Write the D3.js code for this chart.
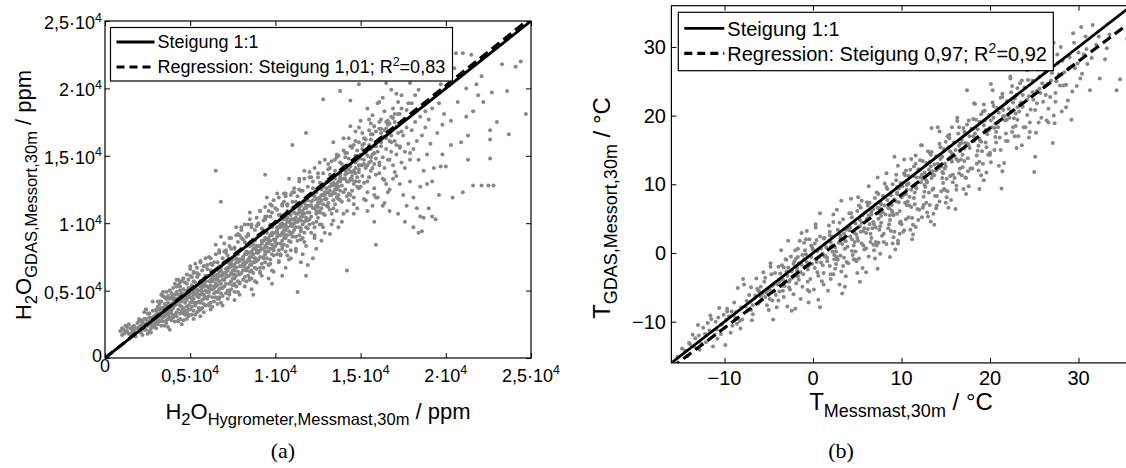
<!DOCTYPE html>
<html>
<head>
<meta charset="utf-8">
<script src="https://cdn.jsdelivr.net/npm/d3@7"></script>
<style>
  body { margin: 0; background: #fff; }
  svg { display: block; }
</style>
</head>
<body>
<svg id="chart" width="1126" height="468"></svg>
<script>
// ---- data ----------------------------------------------------------------
// panel (a): water vapour, values in units of 100 ppm  [hygrometer, GDAS]
const H2O_UNIT = 100
const h2oTicks = [0, 5000, 10000, 15000, 20000, 25000]
const h2oTickLabels = ["0", "0,5", "1", "1,5", "2", "2,5"]   // mantissa of ·10^4
const h2oRegression = [1.01, 0]   // slope, intercept (ppm)
const h2oPoints = [
  [9,20],[10,17],[11,21],[12,19],[13,23],[14,18],[15,22],[16,20],[17,24],[18,19],[19,22],[12,24],[15,17],[17,21],[19,26],[18,16],[14,25],[11,18],[10,22],[16,23],
  [20,23],[21,19],[22,26],[23,21],[24,29],[25,24],[26,20],[27,27],[28,23],[29,31],[21,28],[23,34],[25,18],[26,30],[27,22],[28,35],[29,26],[24,21],[22,22],[20,27],[25,33],[27,19],[28,28],[29,24],[26,25],[23,29],[21,24],[24,36],[22,17],[26,33],
  [30,29],[31,25],[32,33],[33,28],[34,37],[35,31],[36,26],[37,35],[38,30],[39,40],[30,35],[31,38],[32,27],[33,42],[34,30],[35,24],[36,39],[37,29],[38,44],[39,33],[30,22],[31,31],[32,36],[33,24],[34,34],[35,40],[36,32],[37,23],[38,36],[39,28],[34,46],[36,44],[31,29],[33,33],[35,35],[37,41],[39,37],[38,21],[32,40],[36,28],[30,32],[34,27],[37,32],[39,45],[33,37],
  [40,37],[41,32],[42,44],[43,36],[44,29],[45,42],[46,33],[47,47],[48,38],[49,32],[40,43],[41,47],[42,34],[43,28],[44,46],[45,35],[46,51],[47,41],[48,29],[49,45],[40,31],[41,39],[42,49],[43,42],[44,33],[45,48],[46,28],[47,35],[48,50],[49,39],[40,47],[42,40],[44,39],[46,45],[48,43],[41,27],[43,54],[45,25],[47,32],[49,52],[42,31],[44,50],[46,37],[48,34],[43,47],[41,43],[45,38],[47,44],[49,36],[44,56],
  [50,45],[51,38],[52,51],[53,41],[54,34],[55,47],[56,41],[57,54],[58,47],[59,39],[50,52],[51,45],[52,35],[53,56],[54,46],[55,37],[56,53],[57,43],[58,59],[59,50],[50,36],[51,54],[52,44],[53,32],[54,51],[55,45],[56,31],[57,49],[58,40],[59,57],[50,41],[52,57],[54,41],[56,47],[58,53],[51,43],[53,48],[55,55],[57,37],[59,45],[50,61],[52,29],[54,63],[56,57],[58,34],[53,39],[55,42],[57,52],[59,61],[51,32],[54,48],[56,36],[58,44],[52,47],
  [60,53],[61,46],[62,57],[63,51],[64,42],[65,55],[66,49],[67,61],[68,55],[69,46],[60,61],[61,52],[62,41],[63,63],[64,53],[65,45],[66,59],[67,51],[68,67],[69,58],[60,44],[61,61],[62,51],[63,38],[64,58],[65,53],[66,40],[67,57],[68,48],[69,63],[60,49],[62,65],[64,48],[66,54],[68,61],[61,49],[63,57],[65,61],[67,44],[69,52],[60,69],[62,36],[64,71],[65,139],[68,41],[63,45],[65,49],[67,68],[69,39],[61,39],[64,64],[66,44],[68,52],[62,54],
  [70,63],[71,55],[72,67],[73,61],[74,51],[75,65],[76,59],[77,71],[78,64],[79,56],[70,71],[71,63],[72,50],[73,73],[74,63],[75,54],[76,69],[77,61],[78,77],[79,68],[70,53],[71,71],[72,61],[73,47],[74,68],[75,62],[76,49],[77,67],[78,57],[79,73],[70,58],[72,76],[74,57],[76,65],[78,71],[71,60],[73,67],[75,73],[77,53],[79,62],[70,79],[72,44],[74,81],[76,43],[78,49],[73,55],[75,59],[77,78],[79,47],[71,48],[68,116],[78,92],[74,72],[76,55],
  [80,73],[81,65],[82,77],[83,71],[84,61],[85,75],[86,69],[87,81],[88,74],[89,66],[80,81],[81,73],[82,60],[83,83],[84,73],[85,64],[86,79],[87,71],[88,87],[89,78],[80,63],[81,81],[82,71],[83,57],[84,78],[85,72],[86,59],[87,77],[88,67],[89,83],[80,68],[82,86],[84,67],[86,75],[88,81],[81,70],[83,77],[85,83],[87,63],[89,72],[80,89],[82,53],[84,91],[86,51],[88,57],[83,65],[85,69],[87,88],[89,56],[81,58],[84,99],[87,47],[86,65],[82,66],
  [90,83],[91,75],[92,87],[93,81],[94,71],[95,85],[96,79],[97,91],[98,84],[99,76],[90,91],[91,83],[92,70],[93,93],[94,83],[95,74],[96,89],[97,81],[98,97],[99,88],[90,73],[91,91],[92,81],[93,67],[94,88],[95,82],[96,69],[97,87],[98,77],[99,93],[90,78],[92,96],[94,77],[96,85],[98,91],[91,80],[93,87],[95,93],[97,73],[99,82],[90,99],[92,61],[94,103],[96,59],[98,65],[93,75],[95,79],[97,99],[99,64],[91,67],[94,136],[96,109],[98,55],
  [100,93],[101,85],[102,97],[103,91],[104,81],[105,95],[106,89],[107,101],[108,94],[109,86],[100,101],[101,93],[102,80],[103,103],[104,93],[105,84],[106,99],[107,91],[108,107],[109,98],[100,83],[101,101],[102,91],[103,77],[104,98],[105,92],[106,79],[107,97],[108,87],[109,103],[100,88],[102,106],[104,87],[106,95],[108,101],[101,90],[103,97],[105,103],[107,83],[109,92],[100,111],[102,71],[104,113],[106,67],[108,73],[103,85],[105,89],[107,109],[109,74],[101,77],[104,61],[106,120],
  [110,103],[111,95],[112,107],[113,101],[114,91],[115,105],[116,99],[117,111],[118,104],[119,96],[110,111],[111,103],[112,90],[113,113],[114,103],[115,94],[116,109],[117,101],[118,117],[119,108],[110,93],[111,111],[112,101],[113,87],[114,108],[115,102],[116,89],[117,107],[118,97],[119,113],[110,98],[112,116],[114,97],[116,105],[118,111],[111,100],[113,107],[115,113],[117,93],[119,102],[110,123],[112,79],[114,125],[116,77],[118,83],[115,71],[119,69],[110,158],[118,167],[113,49],
  [120,113],[121,105],[122,117],[123,111],[124,101],[125,115],[126,109],[127,121],[128,114],[129,106],[120,121],[121,113],[122,100],[123,123],[124,113],[125,104],[126,119],[127,111],[128,127],[129,118],[120,103],[121,121],[122,111],[123,97],[124,118],[125,112],[126,99],[127,117],[128,107],[129,123],[120,108],[122,126],[124,107],[126,115],[128,121],[121,134],[123,89],[125,137],[127,87],[129,93],[124,81],[122,74],[118,61],[126,130],
  [130,123],[131,115],[132,127],[133,121],[134,111],[135,125],[136,119],[137,131],[138,124],[139,116],[130,131],[131,123],[132,110],[133,133],[134,123],[135,114],[136,129],[137,121],[138,137],[139,128],[130,113],[131,131],[132,121],[133,107],[134,128],[135,122],[136,109],[137,127],[138,117],[139,133],[130,118],[132,136],[134,117],[136,125],[138,131],[131,144],[133,99],[135,147],[137,97],[139,101],[132,92],[136,151],[128,192],[138,198],
  [140,133],[141,125],[142,137],[143,131],[144,121],[145,135],[146,129],[147,141],[148,134],[149,126],[140,141],[141,133],[142,120],[143,143],[144,133],[145,124],[146,139],[147,131],[148,147],[149,138],[140,123],[141,141],[142,131],[143,117],[144,138],[145,132],[146,119],[147,137],[148,127],[149,143],[140,154],[142,109],[144,157],[146,107],[148,111],[143,163],[147,161],[142,65],[144,191],[149,203],
  [150,143],[151,135],[152,147],[153,141],[154,131],[155,145],[156,139],[157,151],[158,144],[159,136],[150,151],[151,143],[152,130],[153,153],[154,143],[155,134],[156,149],[157,141],[158,157],[159,148],[150,127],[152,159],[154,123],[156,162],[158,121],[151,167],[153,117],[155,169],[157,113],[159,119],[154,109],[156,174],[159,84],[158,101],
  [160,153],[161,145],[162,157],[163,149],[164,141],[165,155],[166,147],[167,161],[168,153],[169,143],[160,161],[161,137],[162,167],[163,133],[164,169],[165,129],[166,173],[167,125],[168,165],[169,133],[160,119],[162,177],[164,115],[166,123],[168,179],[163,113],[167,109],[161,190],[165,204],[169,185],
  [170,161],[171,151],[172,167],[173,157],[174,145],[175,165],[176,153],[177,171],[178,159],[179,147],[170,175],[171,135],[172,181],[173,129],[174,185],[175,121],[176,177],[177,113],[178,189],[179,131],[172,107],[176,101],[174,195],[179,204],[171,158],
  [180,169],[181,155],[182,175],[183,161],[184,147],[185,179],[186,165],[187,139],[188,183],[189,151],[180,189],[181,119],[182,195],[183,111],[184,199],[185,127],[186,94],[187,104],[188,171],[189,129],[181,97],[184,93],[189,211],[185,105],
  [190,177],[191,159],[192,185],[193,141],[194,196],[195,167],[196,121],[197,203],[198,151],[199,181],[190,111],[192,131],[194,103],[196,189],[198,173],[192,105],[197,142],[200,142],
  [204,119],[210,123],[213,147],[216,128],[221,128],[225,128],[228,128],[226,148],[226,162],[226,169],[237,166],[236,198],[247,181],[216,183],[221,209],[210,226],[215,225],[203,176],[207,190],[212,200],[219,195],[205,215],[209,160],[222,190],[230,175],[233,218],[241,216],[244,220],[206,226],[212,179],[218,203],[227,197],[203,158],[213,165],
  // upper half of the band
  [31,42],[33,47],[35,45],[36,49],[38,50],[40,52],[41,55],[43,58],[44,53],[46,59],[47,56],[48,62],[49,58],[50,66],[51,60],[52,64],[53,70],[54,67],[55,62],[56,72],[57,65],[58,68],[59,74],[45,57],[42,53],[39,48],[37,46],
  [60,66],[62,74],[63,69],[65,77],[66,71],[67,80],[69,74],[70,85],[71,78],[73,83],[74,89],[76,81],[77,91],[78,86],[80,95],[81,88],[82,99],[84,92],[85,103],[86,97],[88,95],[89,104],[90,100],[91,109],[93,102],[94,112],[95,105],[97,114],[98,108],[99,117],[101,110],[102,119],[103,106],[105,116],[106,122],[107,113],[109,121],[110,116],[111,126],[113,120],[114,131],[116,124],[117,133],[119,127],[120,138],[122,131],[123,141],[125,134],[126,145],[128,137],[129,147],
  [131,140],[133,146],[135,139],[137,150],[139,144],[141,152],[143,148],[145,156],[147,150],[149,160],[151,155],[153,162],[155,158],[157,166],[159,160],[161,170],[163,164],[165,175],[167,168],[169,178],[171,172],[173,181],[175,176],[177,184],[172,190],[168,160],[174,168],
  [20,29],[22,27],[24,36],[26,33],[28,42],[30,36],[32,42],[34,49],[36,44],[38,50],[40,45],[42,58],[44,53],[46,59],[48,55],[50,68],[52,63],[54,60],[56,71],[58,68],
  [61,75],[62,70],[65,84],[67,78],[68,90],[71,80],[73,89],[76,82],[77,97],[79,91],[80,97],[83,90],[85,108],[86,99],[89,98],[91,109],[94,105],[95,119],[97,105],[98,113],[101,122],[104,114],[105,122],[107,114],[108,133],[111,123],[114,133],[115,124],[117,139],[120,134],
  [132,141],[134,160],[136,149],[138,145],[140,163],[142,152],[144,172],[146,158],[148,154],[150,176],[152,163],[154,185],[156,166],[158,172],[160,189],[162,170],[164,183],[166,176],[168,199],[170,181],[141,149],[147,168],[151,158],[155,177],[159,168],[163,193],[167,174],[171,196],[149,171],[157,180],[161,175],[165,170],
  // core and lower half
  [41,40],[43,44],[45,43],[47,48],[49,47],[52,49],[54,54],[56,50],[58,56],[61,57],[63,60],[65,58],[67,64],[69,61],[72,65],[74,70],[76,67],[78,73],[81,75],[83,79],[85,78],[87,84],[89,80],[92,85],[94,89],[96,87],[98,93],[101,95],[103,99],[105,98],[107,104],[109,100],[112,104],[114,110],[116,107],[118,113],[121,116],[123,120],[125,118],[127,125],[129,121],[132,124],[134,130],[136,127],[138,133],[141,136],[143,140],[145,138],[147,145],[149,140],[152,144],[154,150],[156,146],[158,152],
  [82,66],[85,58],[88,71],[91,63],[93,74],[96,69],[99,80],[102,72],[104,83],[107,76],[110,90],[112,81],[115,96],[117,86],[120,99],[123,91],[126,108],[128,97],[131,112],[134,102],[137,118],[140,107],[143,122],[146,114],[149,131],[152,118],[155,134],[158,126],[161,143],[164,132],[167,147],[170,138],[173,156],[176,141],[179,152],
  [13,20],[16,19],[18,22],[20,21],[22,24],[24,25],[26,27],[28,30],[30,27],[32,31],[34,32],[36,34],[38,33],[25,27],[27,25],[29,28],[31,33],[33,31],[35,37],[37,38],[39,35],
  [21,22],[23,25],[25,26],[27,29],[29,29],[31,30],[33,35],[35,34],[37,36],[39,39],[42,41],[44,42],[46,46],[48,46],[50,48],[53,51],[55,50],[57,55],[59,54],[62,58],[64,61],[66,62],[68,65],[71,66],[73,70],[75,69],[77,74],[79,72],
  [40,30],[43,27],[46,36],[49,31],[52,41],[55,35],[58,47],[61,40],[64,52],[67,45],[70,58],[73,49],[76,62],[79,55],[82,69],[85,59],[88,74],[91,64],[94,79],[97,70],[100,86],[103,76],[106,91],[109,80],[112,97],[115,88],[118,102],[121,93],[124,109],[127,99],
  [101,97],[104,100],[106,103],[109,106],[111,108],[114,112],[117,115],[119,117],[122,121],[124,123],[127,127],[130,126],[133,129],[135,133],[138,135],[141,139],[144,142],[147,146],[150,148],[153,152],[156,155],[159,157],[162,160],[165,163]
]

// panel (b): temperature in °C  [Messmast, GDAS]
const tempTicks = [-10, 0, 10, 20, 30]
const tempRegression = [0.97, -1.2]
const tempPoints = [
  [-15.3,-15.1],[-14.8,-13.9],[-14.2,-15.0],[-14.5,-14.2],[-13.6,-11.9],[-13.0,-10.5],[-12.6,-13.2],[-13.3,-12.4],[-12.2,-11.8],[-12.8,-14.1],[-12.4,-10.9],[-13.9,-13.3],
  [-11.9,-10.2],[-11.3,-13.6],[-10.6,-8.0],[-10.9,-11.1],[-11.5,-9.6],[-10.3,-10.4],[-10.8,-12.5],[-11.1,-11.9],[-9.9,-13.4],[-9.5,-9.2],[-9.1,-10.6],[-8.7,-8.6],[-8.3,-9.9],[-9.7,-8.1],[-8.9,-7.2],[-8.5,-5.1],[-8.2,-11.0],[-9.3,-11.6],[-10.1,-9.0],[-8.6,-10.3],
  [-8.0,-9.7],[-7.2,-6.1],[-7.6,-7.8],[-6.8,-8.9],[-6.4,-3.7],[-7.0,-5.0],[-6.6,-6.6],[-6.2,-7.4],[-7.8,-4.6],[-6.9,-9.8],[-7.4,-8.4],[-6.1,-5.6],[-5.8,-6.8],[-5.5,-4.2],[-5.2,-7.6],[-4.9,-5.3],[-4.5,-9.7],[-4.7,-3.1],[-5.6,-2.8],[-4.2,-6.1],[-5.0,-8.3],[-4.4,-4.5],[-5.3,-5.7],[-4.1,-7.9],[-5.9,-4.9],[-4.8,-2.0],[-7.1,-7.1],[-6.3,-5.2],[-5.4,-6.4],[-4.6,-6.9],
  [-3.6,0.4],[-3.8,-4.1],[-3.3,-6.4],[-3.0,-2.7],[-2.6,-5.3],[-2.3,-3.6],[-3.5,-1.8],[-2.9,-7.8],[-2.1,-1.2],[-3.9,-6.9],[-2.5,-0.5],[-3.2,-4.8],[-2.8,-2.1],[-2.2,-6.0],[-3.7,-3.0],[-2.4,-8.4],[-3.1,-0.9],[-2.7,-4.2],[-1.3,2.9],[-1.9,-4.4],[-1.6,-1.5],[-1.1,-3.1],[-0.8,-0.2],[-0.4,-5.6],[-1.7,0.6],[-0.6,-2.4],[-1.4,-6.7],[-0.2,1.1],[-1.0,-0.9],[-0.3,-3.8],[-1.8,-2.6],[-0.7,3.2],[-1.2,-4.9],[-0.1,-1.6],[-1.5,1.8],[-0.5,-7.2],[-0.9,0.4],[-1.9,-0.8],[-3.4,-5.5],[-2.0,-3.3],[-0.9,-2.0],[-1.6,-3.9],
  [0.8,5.8],[0.2,-2.2],[0.5,0.3],[1.0,-4.1],[1.3,2.2],[1.6,-0.7],[0.1,-5.3],[0.9,-1.4],[1.8,4.0],[0.4,1.9],[1.2,-2.9],[1.5,0.8],[0.6,-3.3],[1.9,-1.9],[0.3,3.7],[1.1,-0.1],[1.7,-5.5],[0.7,-0.6],[1.4,1.3],[0.0,0.5],[1.9,2.6],[0.6,-6.8],[2.2,1.1],[2.5,-2.3],[2.8,3.4],[3.1,-0.4],[3.4,4.9],[3.7,1.7],[2.0,-3.8],[2.6,0.2],[3.0,-4.6],[3.5,2.8],[2.3,5.6],[3.8,-1.3],[2.9,1.5],[3.2,-2.7],[2.4,-0.9],[3.6,0.6],[2.7,6.3],[3.9,3.5],[2.1,2.4],[3.3,-5.9],[2.6,-1.6],[3.7,-3.4],[1.1,-1.8],[2.4,-0.3],[3.1,2.1],[0.4,-1.0],[2.0,0.9],[3.5,-0.7],
  [4.2,2.4],[4.5,-0.3],[4.8,4.3],[5.1,1.8],[5.4,6.6],[5.7,3.2],[4.0,-1.5],[4.6,1.1],[5.0,-2.9],[5.5,4.4],[4.3,7.9],[5.8,0.5],[4.9,2.7],[5.2,-0.8],[4.4,5.2],[5.6,-2.2],[4.7,1.6],[5.9,5.9],[4.1,3.3],[5.3,-4.2],[4.8,0.2],[5.0,6.1],[5.5,1.4],[6.2,3.5],[6.5,1.6],[6.8,6.4],[7.1,3.7],[7.4,8.6],[7.7,5.4],[6.0,0.7],[6.6,2.2],[7.0,-0.8],[7.5,6.5],[6.3,9.7],[7.8,2.5],[6.9,4.2],[7.2,1.1],[6.4,7.3],[7.6,-0.1],[6.7,3.6],[7.9,8.3],[6.1,5.0],[7.3,-2.3],[6.8,1.2],[7.0,8.0],[7.5,3.4],[6.3,-0.5],[7.1,1.6],[4.9,-1.2],[6.0,2.9],[5.3,3.9],[7.7,4.4],[6.6,5.6],
  [8.2,5.6],[8.5,3.6],[8.8,8.4],[9.1,5.5],[9.4,10.6],[9.7,7.4],[8.0,2.8],[8.6,4.2],[9.0,1.4],[9.5,8.6],[8.3,11.6],[9.8,4.4],[8.9,6.2],[9.2,3.1],[8.4,9.3],[9.6,1.8],[8.7,5.5],[9.9,10.2],[8.1,6.9],[9.3,0.5],[8.8,3.2],[9.0,10.0],[9.5,5.7],[8.3,1.3],[9.6,12.7],[9.8,2.8],[10.2,8.4],[10.5,4.9],[10.8,11.2],[11.1,6.7],[11.4,12.6],[11.7,9.4],[10.0,4.2],[10.6,7.0],[11.0,3.4],[11.5,9.8],[10.3,13.6],[11.8,6.4],[10.9,8.2],[11.2,5.1],[10.4,11.3],[11.6,3.8],[10.7,7.5],[11.9,12.2],[10.1,9.7],[11.3,2.7],[10.8,5.2],[11.0,12.1],[11.5,7.1],[10.3,3.3],[11.6,14.2],[11.9,4.8],[9.6,1.4],[10.6,9.2],[9.2,7.8],[11.4,8.0],
  [12.2,10.3],[12.5,7.0],[12.8,13.1],[13.1,8.8],[13.4,14.7],[13.7,11.3],[12.0,6.3],[12.6,8.9],[13.0,5.3],[13.5,11.9],[12.3,15.7],[13.8,8.3],[12.9,10.3],[13.2,7.0],[12.4,13.4],[13.6,5.7],[12.7,9.6],[13.9,14.1],[12.1,11.0],[13.3,4.6],[12.8,7.3],[13.0,14.8],[13.5,9.2],[12.3,5.2],[13.4,18.2],[13.9,6.5],[14.2,12.3],[14.5,9.0],[14.8,15.1],[15.1,10.8],[15.4,16.7],[15.7,13.3],[14.0,8.3],[14.6,10.9],[15.0,7.3],[15.5,13.9],[14.3,17.7],[15.8,10.3],[14.9,12.3],[15.2,9.0],[14.4,15.4],[15.6,7.7],[14.7,11.6],[15.9,16.1],[14.1,13.0],[15.3,6.6],[14.8,9.3],[15.0,16.2],[15.5,11.2],[14.3,7.5],[15.7,18.3],[12.6,11.7],[14.6,14.0],[13.1,12.1],
  [16.2,13.7],[16.5,11.6],[16.8,16.5],[17.1,13.4],[17.4,18.7],[17.7,15.3],[16.0,10.9],[16.6,12.3],[17.0,9.3],[17.5,15.9],[16.3,19.7],[17.8,12.3],[16.9,14.3],[17.2,11.0],[16.4,17.4],[17.6,9.7],[16.7,13.6],[17.9,18.1],[16.1,15.0],[17.3,8.6],[16.8,11.3],[17.0,18.2],[17.4,23.7],[16.2,9.2],[18.2,16.3],[18.5,13.0],[18.8,19.1],[19.1,14.8],[19.4,20.7],[19.7,17.3],[18.0,12.3],[18.6,14.9],[19.0,11.3],[19.5,17.9],[18.3,21.7],[19.8,14.3],[18.9,16.3],[19.2,13.0],[18.4,19.4],[19.6,11.7],[18.7,15.6],[19.9,20.1],[18.1,17.0],[19.3,10.6],[18.8,13.3],[19.0,20.2],[19.5,16.1],[17.2,16.0],[18.6,18.0],[16.5,15.6],
  [20.2,18.3],[20.5,15.0],[20.8,21.1],[21.1,16.8],[21.4,22.7],[21.7,19.3],[20.0,14.3],[20.6,16.9],[21.0,12.7],[21.5,19.9],[20.3,23.7],[21.8,16.3],[20.9,18.3],[21.2,15.0],[20.4,21.4],[21.6,13.1],[20.7,17.6],[21.9,22.1],[21.3,9.4],[20.1,19.3],[22.2,19.7],[22.5,17.6],[22.8,22.5],[23.1,19.4],[23.4,24.7],[23.7,21.3],[22.0,16.3],[22.6,18.3],[23.0,15.3],[23.5,21.9],[22.3,25.7],[23.8,18.3],[22.9,20.3],[23.2,17.0],[22.4,23.4],[23.6,15.7],[22.7,19.6],[23.9,24.1],[21.0,20.4],[22.1,21.0],
  [24.2,22.3],[24.5,19.0],[24.8,25.1],[25.1,20.8],[25.4,26.7],[25.7,23.3],[24.0,18.3],[24.6,20.9],[25.0,11.8],[25.1,14.0],[24.3,25.2],[25.8,19.7],[24.9,22.3],[25.2,17.5],[24.4,16.8],[25.6,25.7],[26.2,24.3],[26.6,21.0],[27.0,26.2],[27.1,16.0],[27.4,23.3],[27.7,27.7],[26.4,19.3],[28.0,30.0],[28.1,20.6],[26.8,22.7],[27.5,25.0],[26.1,27.0],[27.9,24.4],[26.0,22.0],[25.3,23.6],[27.2,20.0],
  [28.4,26.3],[28.8,22.2],[29.2,19.4],[29.4,32.0],[29.0,28.5],[28.6,24.5],[29.6,26.9],[30.0,29.2],[29.8,24.3],[30.2,25.4],[30.3,32.9],[30.8,31.5],[31.3,23.7],[31.6,33.2],[32.4,25.4],[32.0,30.3],[33.0,28.2],[34.3,23.7],[34.7,25.3],[35.5,31.2],[33.5,31.8],[31.0,27.5],[30.6,28.9],[28.2,28.0],[29.5,30.6],
  // dense core of the band
  [-5.7,-5.9],[-5.1,-5.4],[-4.6,-4.8],[-4.0,-4.6],[-3.4,-3.9],[-2.9,-3.3],[-2.4,-2.7],[-1.8,-2.1],[-1.3,-1.7],[-0.7,-1.3],[-0.2,-0.6],[-5.4,-3.6],[-4.3,-2.9],[-3.3,-2.1],[-2.2,-1.6],[-1.2,-0.3],[-4.9,-6.7],[-3.8,-5.6],[-2.7,-5.0],[-1.7,-3.4],[-0.6,-4.2],[-3.0,-1.0],[-2.0,0.4],[-1.0,1.5],[-0.4,2.0],
  [0.3,-0.9],[0.9,0.6],[1.4,-0.4],[2.0,1.6],[2.5,0.8],[3.1,2.6],[3.6,1.9],[4.2,3.7],[4.7,2.9],[5.3,4.8],[5.8,3.6],[0.5,-2.8],[1.6,-1.2],[2.7,-0.6],[3.9,0.9],[5.0,2.2],[0.8,2.4],[1.9,3.1],[3.0,4.4],[4.1,5.8],[5.2,6.9],[1.2,-4.6],[2.3,-3.1],[3.4,-1.9],[4.6,-0.9],[5.7,1.1],[0.2,1.4],[4.4,0.3],[2.8,-1.0],[5.5,7.6],
  [6.3,5.5],[6.8,4.5],[7.3,6.6],[7.9,5.9],[8.4,7.7],[8.9,7.0],[9.5,8.8],[10.0,8.1],[10.6,9.9],[11.1,9.2],[11.7,11.0],[6.5,2.8],[7.6,3.9],[8.7,4.8],[9.8,6.1],[10.9,6.9],[6.1,7.4],[7.2,8.8],[8.3,9.6],[9.4,11.4],[10.5,12.0],[11.6,13.0],[6.9,0.4],[8.0,1.6],[9.1,2.3],[10.2,3.1],[11.3,4.1],[6.6,6.0],[7.7,7.1],[8.6,6.5],[9.7,9.4],[10.8,10.1],[11.5,8.8],[7.4,5.0],[9.0,5.9],[10.4,7.3],
  [12.3,11.4],[12.8,10.6],[13.3,12.6],[13.9,12.0],[14.4,13.7],[14.9,13.0],[15.5,14.8],[16.0,14.1],[16.6,15.9],[17.1,15.2],[17.7,17.0],[12.5,8.2],[13.6,9.4],[14.7,10.2],[15.8,11.4],[16.9,12.5],[12.1,13.5],[13.2,14.6],[14.3,15.9],[15.4,17.2],[16.5,18.3],[17.6,19.3],[12.9,5.9],[14.0,6.9],[15.1,8.1],[16.2,9.8],[17.3,10.9],[12.6,9.9],[13.7,12.9],[14.6,11.8],[15.7,14.5],[16.8,16.0],[17.5,13.8],[13.4,10.9],[15.0,12.6],[16.4,13.4],
  [18.3,17.4],[18.8,16.6],[19.3,18.6],[19.9,17.9],[20.4,19.7],[20.9,19.0],[21.5,20.8],[22.0,20.1],[22.6,21.9],[23.1,21.2],[23.7,23.0],[18.5,14.2],[19.6,15.4],[20.7,16.1],[21.8,17.4],[22.9,18.5],[18.1,19.5],[19.2,20.6],[20.3,21.9],[21.4,23.2],[22.5,24.3],[23.6,25.1],[24.2,20.1],[24.8,23.4],[25.3,21.8],[25.9,24.7],[24.5,17.6],[25.5,19.0],[19.0,16.2],[20.5,18.2],[21.9,19.4],[23.3,20.6],[18.7,12.0],[20.1,13.2],
  [26.3,23.0],[26.9,25.1],[27.4,22.0],[27.8,26.0],[28.3,24.4],[28.9,26.9],[29.3,23.5],[29.9,27.6],[30.4,26.1],[30.9,29.7],[26.6,19.0],[27.6,28.9],[28.6,21.2],[31.5,28.4],[32.3,31.5],[33.2,29.8],[26.2,26.3],[27.3,18.9],
  [-14.0,-13.1],[-13.4,-13.6],[-12.9,-12.0],[-11.7,-11.3],[-11.0,-10.0],[-10.4,-11.8],[-9.8,-9.7],[-9.2,-8.5],[-8.8,-9.4],[-8.1,-7.9],[-7.5,-7.0],[-7.0,-8.3],[-6.5,-6.2],[-6.0,-7.1],[-12.1,-13.0],[-10.7,-9.4],
  [-11.6,-9.1],[-9.7,-8.5],[-7.9,-3.8],[-6.2,-5.4],[-4.8,-1.5],[-3.9,-2.0],[-2.8,1.8],[-1.7,-0.6],[-0.8,2.0],[0.3,4.2],[1.2,2.1],[2.3,4.5],[3.2,7.6],[4.3,5.8],[5.1,8.1],[6.2,6.9],[7.3,11.0],[8.1,10.1],[9.2,14.0],[10.3,11.6],[11.1,13.7],[12.2,15.7],[13.3,14.3],[14.1,18.3],[15.2,17.0],[16.3,19.2],[17.1,17.7],[18.2,21.8],[19.3,21.6],[20.1,24.6],[21.2,22.6],[22.3,25.4],[23.1,24.0],[24.2,26.6],[25.3,29.3],[26.1,27.7],[27.2,30.6],
  [-6.8,-7.6],[-5.9,-6.3],[-4.4,-5.6],[-3.5,-4.8],[-2.6,-3.9],[-1.4,-2.8],[-0.5,-1.9],[0.4,-1.3],[1.3,-0.5],[2.2,0.2],[3.3,1.3],[4.4,2.0],[5.4,3.1],[6.4,4.2],[7.5,5.8],[8.5,6.6],[9.4,7.5],[10.5,8.6],[11.6,9.6],[12.4,10.8],[13.5,11.4],[14.5,12.6],[15.6,13.6],[16.6,14.8],[17.6,15.6],[18.5,16.8],[19.6,17.6],[20.6,18.8],[21.6,19.9],[22.4,20.6],[23.4,21.6],[24.4,22.8],[25.6,23.9],[26.5,24.6],[-0.1,0.8],[1.8,1.7],[3.7,3.4],[5.6,5.5],[7.6,7.3],[9.5,9.6],[11.4,11.2],[13.2,13.3],[15.3,15.4],[17.2,17.3],[19.4,19.3],[21.3,21.1],[23.0,23.0],
  [-2.0,-8.1],[-0.6,-5.4],[0.8,-7.9],[2.0,-3.1],[3.6,-4.9],[4.8,-1.0],[6.0,-2.8],[7.4,1.5],[8.7,-0.6],[9.9,4.6],[11.2,2.0],[12.4,6.6],[13.7,4.1],[14.9,9.2],[16.1,6.4],[17.5,11.9],[18.8,9.3],[20.0,14.6],[21.4,11.9],[22.8,17.0]
]

// ---- drawing -------------------------------------------------------------
const FONT = "'Liberation Sans', Arial, Helvetica, sans-serif"
const svg = d3.select("#chart").style("font-family", FONT)

// text made of parts, each part: [string, fontSize, baselineShift]
function richText(sel, parts) {
  let prev = 0
  parts.forEach(([str, size, shift]) => {
    sel.append("tspan")
      .attr("font-size", size)
      .attr("dy", shift - prev)
      .text(str)
    prev = shift
  })
  return sel
}

function drawPanel(opt) {
  const g = svg.append("g")
  const x = d3.scaleLinear().domain(opt.xDomain).range([opt.left, opt.right])
  const y = d3.scaleLinear().domain(opt.yDomain).range([opt.bottom, opt.top])

  g.append("clipPath").attr("id", opt.id + "-clip")
    .append("rect")
      .attr("x", opt.left).attr("y", opt.top)
      .attr("width", opt.right - opt.left).attr("height", opt.bottom - opt.top)

  const plot = g.append("g").attr("clip-path", `url(#${opt.id}-clip)`)

  plot.selectAll("circle")
    .data(opt.points)
    .join("circle")
      .attr("cx", d => x(d[0] * opt.unit))
      .attr("cy", d => y(d[1] * opt.unit))
      .attr("r", 2)
      .attr("fill", "#878787")

  const line = d3.line().x(d => x(d[0])).y(d => y(d[1]))
  const [x0, x1] = opt.xDomain
  const [slope, icpt] = opt.regression

  plot.append("path")
    .attr("d", line([[x0, x0], [x1, x1]]))
    .attr("stroke", "#000").attr("stroke-width", 2.8).attr("fill", "none")

  plot.append("path")
    .attr("d", line([[x0, slope * x0 + icpt], [x1, slope * x1 + icpt]]))
    .attr("stroke", "#000").attr("stroke-width", 3.2).attr("fill", "none")
    .attr("stroke-dasharray", "10,5")

  // frame and inward ticks on all four sides
  g.append("rect")
    .attr("x", opt.left).attr("y", opt.top)
    .attr("width", opt.right - opt.left).attr("height", opt.bottom - opt.top)
    .attr("fill", "none").attr("stroke", "#000").attr("stroke-width", 1.2)

  const tickAxes = [
    [d3.axisBottom(x).tickValues(opt.xTicks), `translate(0,${opt.bottom})`],
    [d3.axisTop(x).tickValues(opt.xTicks), `translate(0,${opt.top})`],
    [d3.axisLeft(y).tickValues(opt.yTicks), `translate(${opt.left},0)`],
    [d3.axisRight(y).tickValues(opt.yTicks), `translate(${opt.right},0)`]
  ]
  tickAxes.forEach(([ax, tr]) => {
    const a = g.append("g").attr("transform", tr)
      .call(ax.tickSize(-5).tickFormat(""))
    a.select(".domain").remove()
    a.selectAll(".tick line").attr("stroke", "#000")
  })

  // tick labels
  opt.xTicks.forEach((v, i) => {
    const t = g.append("text")
      .attr("x", x(v)).attr("y", opt.xLabelY(i))
      .attr("text-anchor", "middle").attr("fill", "#000")
    richText(t, opt.tickParts(i))
  })
  opt.yTicks.forEach((v, i) => {
    const t = g.append("text")
      .attr("x", opt.yLabelX).attr("y", y(v) + opt.yLabelDy(i))
      .attr("text-anchor", "end").attr("fill", "#000")
    richText(t, opt.tickParts(i))
  })

  // axis titles
  const xt = g.append("text")
    .attr("x", opt.xTitle.x).attr("y", opt.xTitle.y)
    .attr("text-anchor", "middle").attr("fill", "#000")
  richText(xt, opt.xTitle.parts)

  const yt = g.append("text")
    .attr("transform", `translate(${opt.yTitle.x},${opt.yTitle.y}) rotate(-90)`)
    .attr("text-anchor", "middle").attr("fill", "#000")
  richText(yt, opt.yTitle.parts)

  // legend
  const L = opt.legend
  g.append("rect")
    .attr("x", L.x).attr("y", L.y).attr("width", L.w).attr("height", L.h)
    .attr("fill", "#fff").attr("stroke", "#000").attr("stroke-width", 1.2)
  L.rows.forEach((row, i) => {
    const ry = L.y + L.row0 + i * L.rowGap
    g.append("line")
      .attr("x1", L.x + 6).attr("x2", L.x + 6 + L.sample)
      .attr("y1", ry).attr("y2", ry)
      .attr("stroke", "#000")
      .attr("stroke-width", i === 0 ? 2.8 : 3.2)
      .attr("stroke-dasharray", i === 0 ? null : "8,5")
    const t = g.append("text")
      .attr("x", L.x + 9 + L.sample).attr("y", ry + L.fs * 0.36)
      .attr("fill", "#000")
    richText(t, row)
  })

  // caption
  g.append("text")
    .attr("x", opt.caption.x).attr("y", opt.caption.y)
    .attr("text-anchor", "middle")
    .attr("font-family", "'Liberation Serif', 'DejaVu Serif', serif")
    .attr("font-size", 22)
    .text(opt.caption.text)
}

// panel (a)
drawPanel({
  id: "pa",
  xDomain: [0, 25000], yDomain: [0, 25000], unit: H2O_UNIT,
  left: 105, right: 531, top: 21, bottom: 358,
  points: h2oPoints, regression: h2oRegression,
  xTicks: h2oTicks, yTicks: h2oTicks,
  tickParts: i => h2oTickLabels[i] === "0"
    ? [["0", 18, 0]]
    : [[h2oTickLabels[i] + "·10", 18, 0], ["4", 12.5, -7.5]],
  xLabelY: i => i === 0 ? 372 : 381.5,
  yLabelX: 102,
  yLabelDy: i => i === 0 ? 4 : 8,
  xTitle: { x: 318, y: 419, parts: [["H", 22, 0], ["2", 16.5, 6], ["O", 22, 0], ["Hygrometer,Messmast,30m", 16.5, 6], [" / ppm", 22, 0]] },
  yTitle: { x: 31, y: 195, parts: [["H", 22, 0], ["2", 16.5, 6], ["O", 22, 0], ["GDAS,Messort,30m", 16.5, 6], [" / ppm", 22, 0]] },
  legend: { x: 110.5, y: 27.5, w: 342, h: 53.5, row0: 14.5, rowGap: 25, sample: 38, fs: 18,
    rows: [[["Steigung 1:1", 18, 0]],
           [["Regression: Steigung 1,01; R", 18, 0], ["2", 12.5, -7.5], ["=0,83", 18, 0]]] },
  caption: { x: 283, y: 458, text: "(a)" }
})

// panel (b)
drawPanel({
  id: "pb",
  xDomain: [-16, 36], yDomain: [-16, 36], unit: 1,
  left: 671.4, right: 1131.6, top: 5.7, bottom: 362.9,
  points: tempPoints, regression: tempRegression,
  xTicks: tempTicks, yTicks: tempTicks,
  tickParts: i => [[String(tempTicks[i]).replace("-", "\u2212"), 20, 0]],
  xLabelY: () => 385,
  yLabelX: 666,
  yLabelDy: () => 7,
  xTitle: { x: 901, y: 410, parts: [["T", 24, 0], ["Messmast,30m", 18, 7], [" / °C", 24, 0]] },
  yTitle: { x: 610, y: 208, parts: [["T", 24, 0], ["GDAS,Messort,30m", 18, 7], [" / °C", 24, 0]] },
  legend: { x: 678.3, y: 12.3, w: 375, h: 58.4, row0: 16, rowGap: 25, sample: 40, fs: 20,
    rows: [[["Steigung 1:1", 20, 0]],
           [["Regression: Steigung 0,97; R", 20, 0], ["2", 14, -8], ["=0,92", 20, 0]]] },
  caption: { x: 841, y: 458, text: "(b)" }
})
</script>
</body>
</html>
